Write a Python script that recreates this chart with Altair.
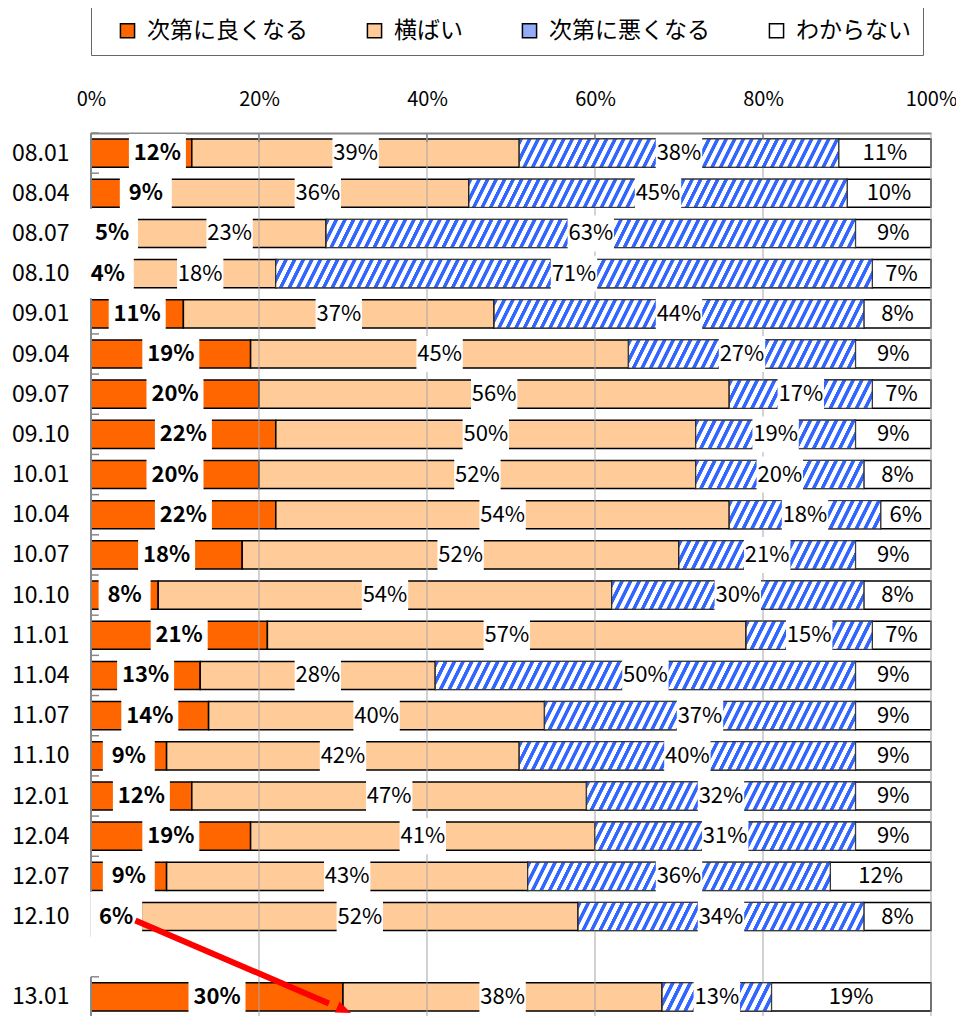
import math
import altair as alt
import pandas as pd

# ---------------- data ----------------
rows = ['08.01', '08.04', '08.07', '08.10', '09.01', '09.04', '09.07', '09.10',
        '10.01', '10.04', '10.07', '10.10', '11.01', '11.04', '11.07', '11.10',
        '12.01', '12.04', '12.07', '12.10', '13.01']
slots = list(range(20)) + [21]          # 13.01 sits after one empty row
better = [12, 9, 5, 4, 11, 19, 20, 22, 20, 22, 18, 8, 21, 13, 14, 9, 12, 19, 9, 6, 30]
flat = [39, 36, 23, 18, 37, 45, 56, 50, 52, 54, 52, 54, 57, 28, 40, 42, 47, 41, 43, 52, 38]
worse = [38, 45, 63, 71, 44, 27, 17, 19, 20, 18, 21, 30, 15, 50, 37, 40, 32, 31, 36, 34, 13]
unknown = [11, 10, 9, 7, 8, 9, 7, 9, 8, 6, 9, 8, 7, 9, 9, 9, 9, 9, 12, 8, 19]
cats = ['次第に良くなる', '横ばい', '次第に悪くなる', 'わからない']
ticks = [0, 20, 40, 60, 80, 100]

# ---------------- layout / style ----------------
FONT = 'Noto Sans CJK JP'
W, H = 840, 884
nslots = max(slots) + 1
px_pct = W / 100.0
px_slot = H / nslots
BAR = 0.35                     # half bar thickness in slot units
ORANGE, TAN, BLUE, WHITE = '#FF6600', '#FFCC99', '#3366FF', '#FFFFFF'
# hand-placed labels in the original (pixel nudges of the "better" labels)
label_nudge_px = {'08.01': 16, '08.04': 17}

series = [better, flat, worse, unknown]
recs = []
for i, r in enumerate(rows):
    acc = 0
    for c, vals in enumerate(series):
        v = vals[i]
        kind = ''
        if c == 0:
            kind = 'b2' if v >= 10 else 'b1'
        elif c < 3:
            kind = 'n2' if v >= 10 else 'n1'
        mid = acc + v / 2.0
        if c == 0:
            mid += label_nudge_px.get(r, 0) / px_pct
        recs.append(dict(row=r, slot=slots[i], cat=cats[c], ci=c, v=v,
                         start=acc, end=acc + v, mid=mid,
                         y0=slots[i] - BAR, y1=slots[i] + BAR,
                         label=f'{v}%', kind=kind))
        acc += v
df = pd.DataFrame(recs)

xscale = alt.Scale(domain=[0, 100], nice=False, zero=False)
yscale = alt.Scale(domain=[-0.5, nslots - 0.5], reverse=True, nice=False, zero=False)

ylabels = [''] * nslots
for s, r in zip(slots, rows):
    ylabels[s] = r
label_expr = '[' + ','.join("'%s'" % t for t in ylabels) + '][datum.value]'

# grid lines (no line at 0)
grid = alt.Chart(pd.DataFrame({'t': ticks[1:]})).mark_rule(
    color='#A6A6A6', strokeWidth=1).encode(
    x=alt.X('t:Q', scale=xscale, title=None), y=alt.value(0), y2=alt.value(H))
topticks = alt.Chart(pd.DataFrame({'t': ticks[1:-1]})).mark_rule(
    color='#888888', strokeWidth=1.5).encode(
    x=alt.X('t:Q', scale=xscale, title=None), y=alt.value(0), y2=alt.value(9))

# left axis segments (one per group of consecutive rows) and boundary ticks
groups = []
for s in slots:
    if groups and s == groups[-1][1] + 1:
        groups[-1][1] = s
    else:
        groups.append([s, s])
seg_df = pd.DataFrame({'a': [g[0] - 0.5 for g in groups], 'b': [g[1] + 0.5 for g in groups]})
leftline = alt.Chart(seg_df).mark_rule(color='#888888', strokeWidth=2).encode(
    x=alt.value(0), y=alt.Y('a:Q', scale=yscale, title=None), y2='b:Q')
bounds = sorted(set([s - 0.5 for s in slots] + [s + 0.5 for s in slots]))
lticks = alt.Chart(pd.DataFrame({'b': bounds})).mark_rule(color='#888888', strokeWidth=1.5).encode(
    x=alt.value(0), x2=alt.value(8), y=alt.Y('b:Q', scale=yscale, title=None))

# base bars
bars = alt.Chart(df).mark_rect(stroke='black', strokeWidth=1.5).encode(
    x=alt.X('start:Q', scale=xscale, title=None,
            axis=alt.Axis(orient='top', values=ticks, labelExpr="datum.value + '%'",
                          labelFontSize=20, labelFont=FONT, labelColor='black',
                          labelFlush=False, labelOverlap=False,
                          ticks=False, grid=False, labelPadding=24,
                          domainColor='#888888', domainWidth=2)),
    x2='end:Q',
    y=alt.Y('y0:Q', scale=yscale, title=None,
            axis=alt.Axis(values=slots, labelExpr=label_expr, labelFontSize=23,
                          labelFont=FONT, labelColor='black', ticks=False,
                          grid=False, domain=False, labelPadding=22)),
    y2='y1:Q',
    color=alt.Color('cat:N', scale=alt.Scale(domain=cats, range=[ORANGE, TAN, '#93ACF8', WHITE]),
                    legend=alt.Legend(title=None, orient='none', legendX=0, legendY=-126,
                                      direction='horizontal', columns=4,
                                      labelFontSize=23, labelFont=FONT, labelColor='black',
                                      labelLimit=400, symbolType='square', symbolSize=200,
                                      symbolStrokeColor='black', symbolStrokeWidth=1.5,
                                      symbolOffset=13, labelOffset=8, columnPadding=42,
                                      padding=12, strokeColor='#666666', fillColor='white')),
)

# striped ("worse") segments – one gradient per bar so stripes keep a constant pitch
PITCH, K, DUTY = 8.6, 0.5, 0.45
stripe_layers = []
bar_h = 2 * BAR * px_slot
for i in range(len(rows)):
    wpx = worse[i] * px_pct
    phi = wpx + K * bar_h
    c = phi / (wpx ** 2 + (K * bar_h) ** 2)
    n = max(1, round(phi / PITCH))
    stops = []
    for j in range(n):
        stops += [alt.GradientStop(color=BLUE, offset=round(j / n, 5)),
                  alt.GradientStop(color=BLUE, offset=round((j + DUTY - 0.06) / n, 5)),
                  alt.GradientStop(color=WHITE, offset=round((j + DUTY + 0.02) / n, 5)),
                  alt.GradientStop(color=WHITE, offset=round((j + 0.94) / n, 5))]
    stops.append(alt.GradientStop(color=BLUE, offset=1))
    grad = alt.LinearGradient(gradient='linear', stops=stops, x1=0, y1=0,
                              x2=round(wpx * c, 6), y2=round(K * bar_h * c, 6))
    sub = df[(df.row == rows[i]) & (df.ci == 2)]
    stripe_layers.append(
        alt.Chart(sub).mark_rect(fill=grad, stroke='#3A3A3A', strokeWidth=1).encode(
            x=alt.X('start:Q', scale=xscale, title=None), x2='end:Q',
            y=alt.Y('y0:Q', scale=yscale, title=None), y2='y1:Q'))

# white label boxes
BOX_H = 38.0
box_w = {'b2': 57.0, 'b1': 40.0, 'n2': 49.0, 'n1': 36.0}
kinds = list(box_w)
paths = []
for k in kinds:
    h = BOX_H / box_w[k]
    paths.append(f'M-1,-{h:.4f}L1,-{h:.4f}L1,{h:.4f}L-1,{h:.4f}Z')
sizes = [box_w[k] ** 2 for k in kinds]
boxes = alt.Chart(df[df.ci < 3]).mark_point(filled=True, color='white', opacity=1,
                                            strokeWidth=0).encode(
    x=alt.X('mid:Q', scale=xscale, title=None),
    y=alt.Y('slot:Q', scale=yscale, title=None),
    shape=alt.Shape('kind:N', scale=alt.Scale(domain=kinds, range=paths), legend=None),
    size=alt.Size('kind:O', scale=alt.Scale(domain=kinds, range=sizes), legend=None))

bold_txt = alt.Chart(df[df.ci == 0]).mark_text(font=FONT, fontSize=22, fontWeight='bold',
                                               color='black', baseline='middle').encode(
    x=alt.X('mid:Q', scale=xscale, title=None), y=alt.Y('slot:Q', scale=yscale, title=None),
    text='label:N')
norm_txt = alt.Chart(df[df.ci > 0]).mark_text(font=FONT, fontSize=22, color='black',
                                              baseline='middle').encode(
    x=alt.X('mid:Q', scale=xscale, title=None), y=alt.Y('slot:Q', scale=yscale, title=None),
    text='label:N')

# red arrow from 12.10 "better" end to 13.01 "better" end
a0x, a0y = better[19], slots[19]
a1x, a1y = better[20], slots[20]
ox0, oy0, ox1, oy1 = -6, 4, 8, 16
dx = (a1x - a0x) * px_pct + (ox1 - ox0)
dy = (a1y - a0y) * px_slot + (oy1 - oy0)
ang = math.atan2(dy, dx)
HEAD = 30
back = HEAD * 0.8
arr_df = pd.DataFrame({'x0': [a0x], 'y0': [a0y], 'x1': [a1x], 'y1': [a1y]})
arrow_line = alt.Chart(arr_df).mark_rule(
    color='#FF0000', strokeWidth=6, xOffset=ox0, yOffset=oy0,
    x2Offset=round(ox1 - back * math.cos(ang), 2),
    y2Offset=round(oy1 - back * math.sin(ang), 2)).encode(
    x=alt.X('x0:Q', scale=xscale, title=None), y=alt.Y('y0:Q', scale=yscale, title=None),
    x2='x1:Q', y2='y1:Q')
arrow_head = alt.Chart(arr_df).mark_point(
    shape='M0,0L-2,-0.8L-2,0.8Z', filled=True, color='#FF0000', opacity=1,
    size=(HEAD / 2) ** 2, angle=round(math.degrees(ang), 2), strokeWidth=0,
    xOffset=ox1, yOffset=oy1).encode(
    x=alt.X('x1:Q', scale=xscale, title=None), y=alt.Y('y1:Q', scale=yscale, title=None))

chart = alt.layer(bars, grid, topticks, leftline, lticks, *stripe_layers, boxes,
                  bold_txt, norm_txt, arrow_line, arrow_head).properties(
    width=W, height=H,
    autosize=alt.AutoSizeParams(type='none'),
    padding={'left': 83, 'top': 125, 'right': 25, 'bottom': 0},
    background='white',
).configure_view(strokeWidth=0)

chart.save('out.html', embed_options={'renderer': 'svg', 'actions': False})
